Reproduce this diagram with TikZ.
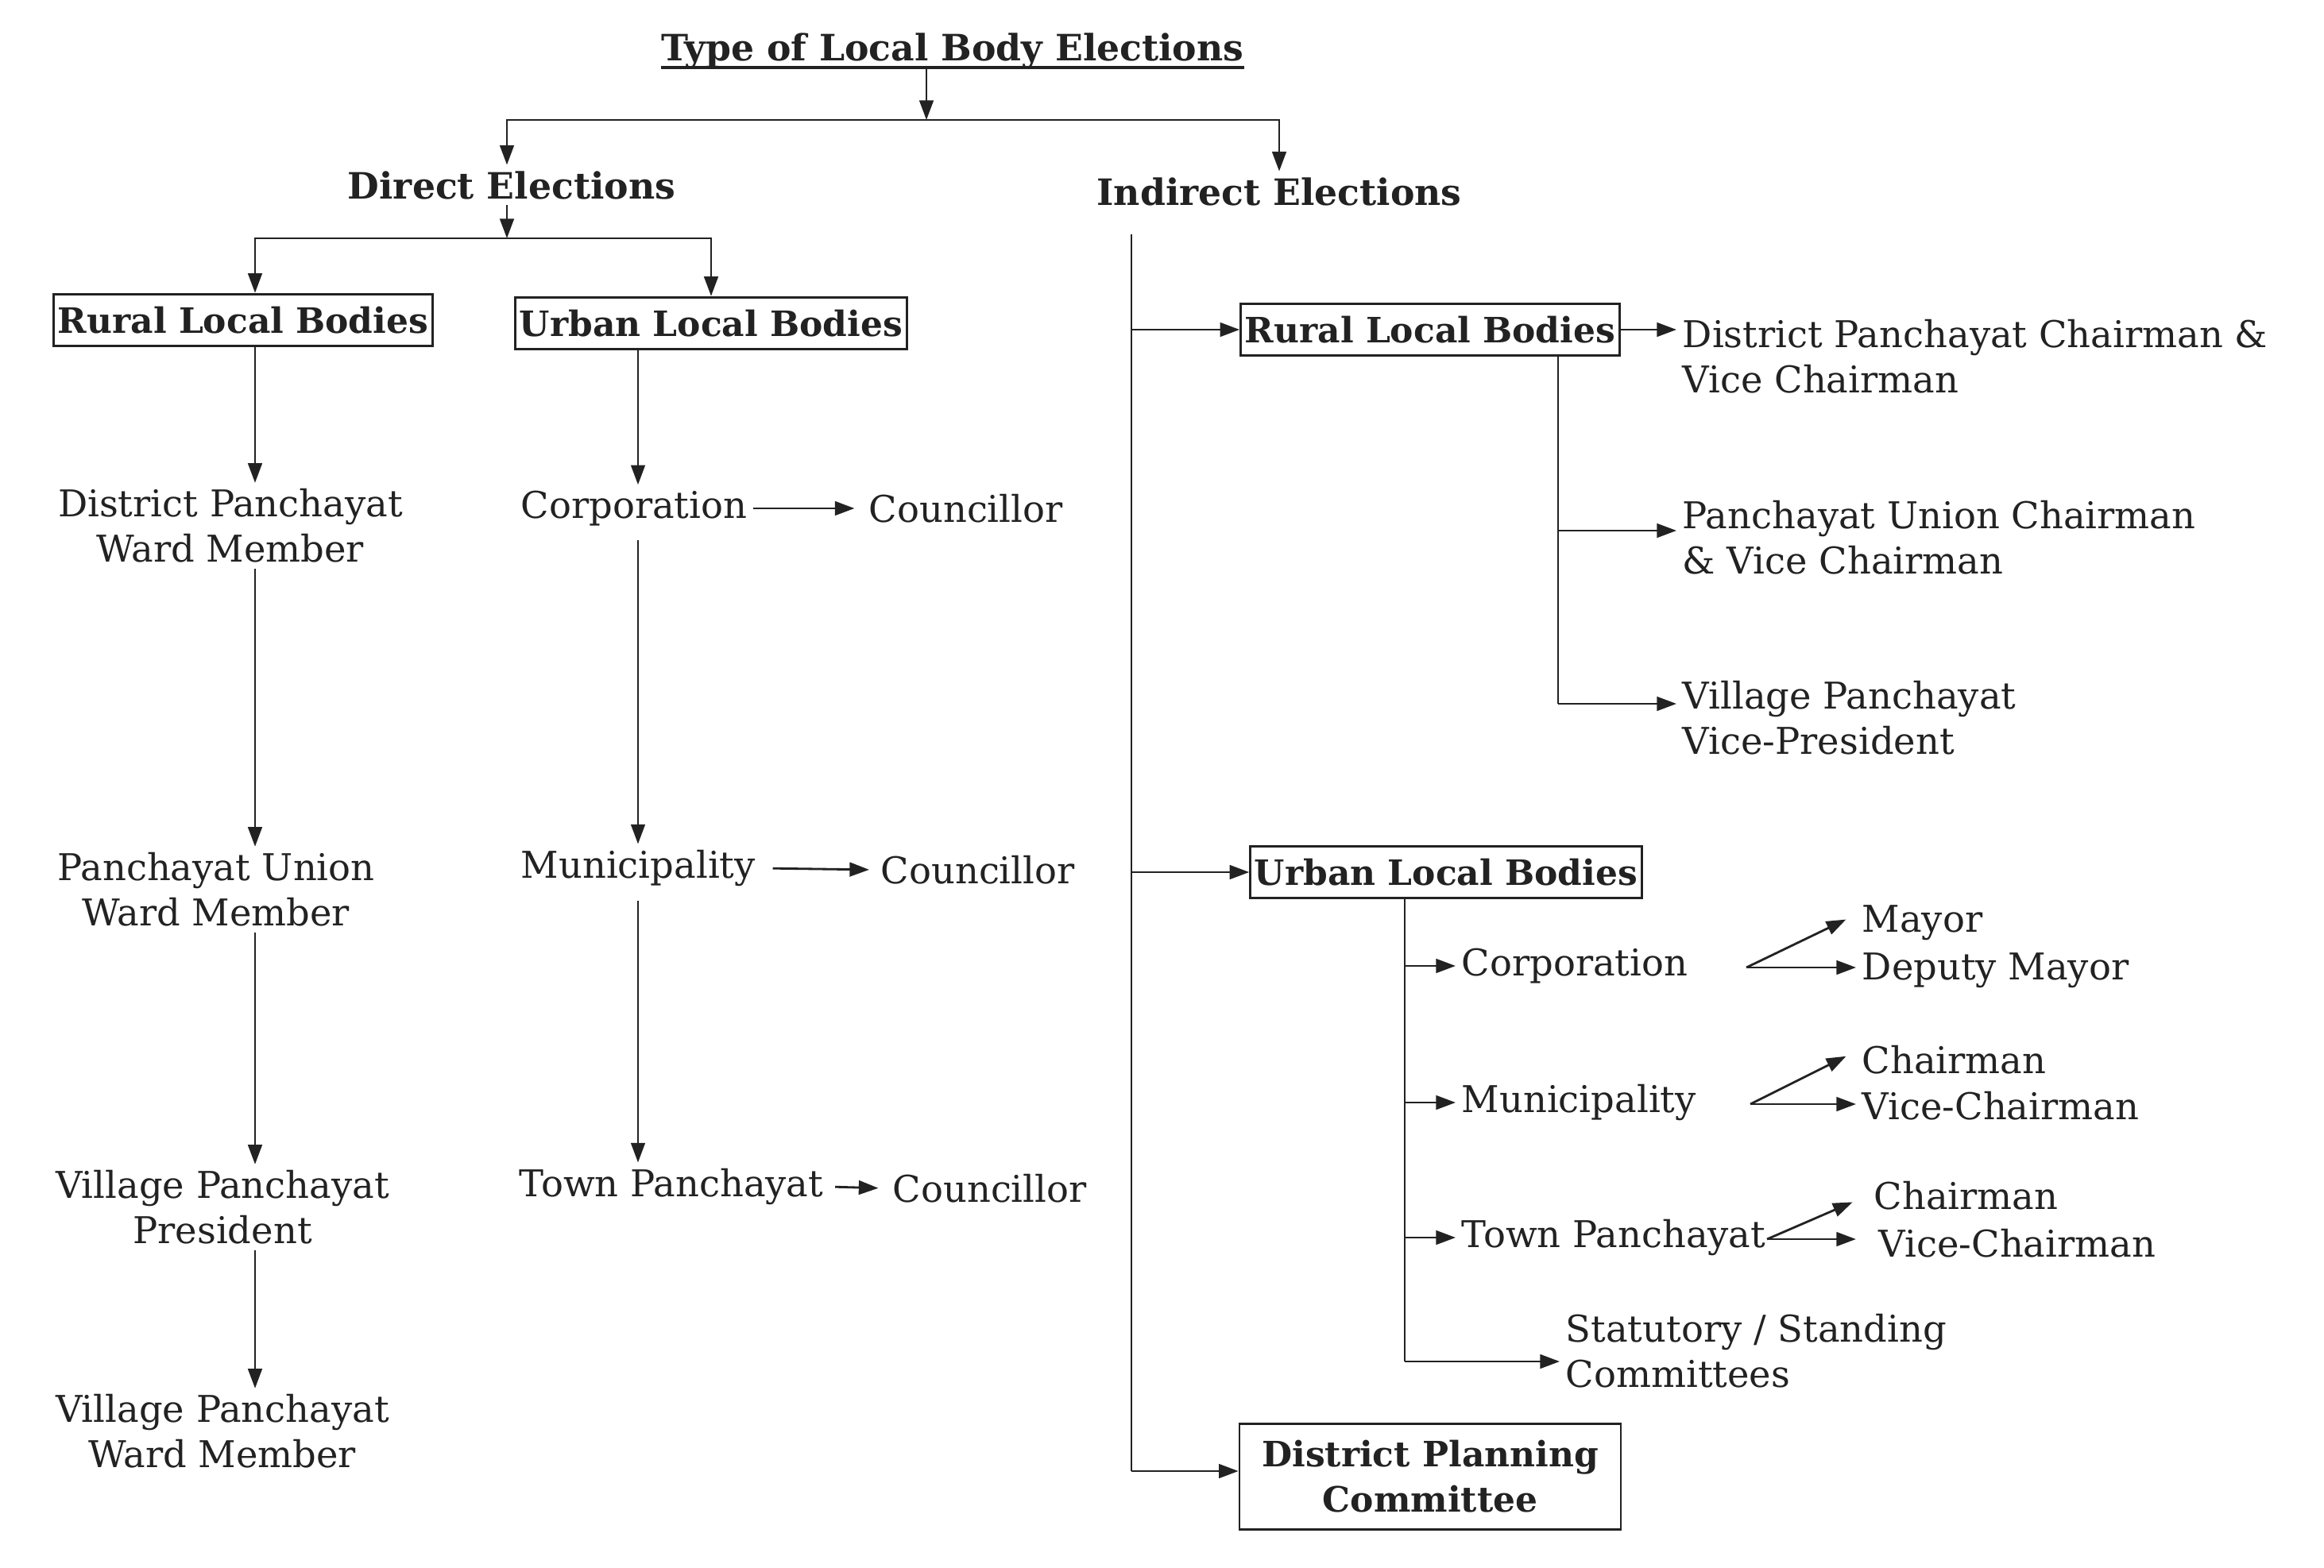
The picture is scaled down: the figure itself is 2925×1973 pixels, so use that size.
\documentclass[tikz,border=0pt]{standalone}
\usepackage{fontspec}
\setmainfont{DejaVu Serif}
\usetikzlibrary{arrows.meta,calc}
\definecolor{ink}{HTML}{222222}
\begin{document}
\begin{tikzpicture}[x=0.01cm,y=-0.01cm,
  every node/.style={text=ink,inner sep=2pt},
  txt/.style={font=\fontsize{13.2}{16.2}\selectfont,align=center},
  ltxt/.style={font=\fontsize{13.2}{16.2}\selectfont,align=left,anchor=west},
  hdr/.style={font=\fontsize{13}{16.2}\selectfont\bfseries},
  bbox/.style={draw=ink,line width=0.8pt,font=\fontsize{12.5}{16.2}\selectfont\bfseries,inner xsep=1.5pt,inner ysep=4.5pt,align=center},
  ln/.style={draw=ink,line width=0.8pt},
  arr/.style={ln,-{Triangle[length=7pt,width=5pt]}}]
\useasboundingbox (0,0) rectangle (2925,1973);
% column coordinates
\coordinate (xL) at (321,0);
\coordinate (xM) at (803,0);
\coordinate (xI) at (1424,0);
\coordinate (xR) at (1961,0);
\coordinate (xU) at (1768,0);
% title
\node[font=\fontsize{13}{16}\selectfont\bfseries,inner xsep=0pt] (title) at (1199,64) {Type of Local Body Elections};
\draw[ln,line width=1pt] ([yshift=-2.5pt]title.base west) -- ([yshift=-2.5pt]title.base east);
\coordinate (j1) at (1166,151);
\draw[arr] ([yshift=-2.5pt]title.base -| j1) -- (j1);
\node[hdr] (de) at (644,233) {Direct Elections};
\node[hdr] (ie) at (1610,241) {Indirect Elections};
\draw[arr] (j1) -| (de.north -| 638,0);
\draw[arr] (j1) -| (ie.north);
% direct
\coordinate (j2) at (638,300);
\draw[arr] (de.south -| j2) -- (j2);
\node[bbox] (rlb1) at (306,403) {Rural Local Bodies};
\node[bbox] (ulb1) at (895,407) {Urban Local Bodies};
\draw[arr] (j2) -| (rlb1.north -| xL);
\draw[arr] (j2) -| (ulb1.north);
\node[txt] (dpwm) at (290,662) {District Panchayat\\Ward Member};
\node[txt] (puwm) at (272,1120) {Panchayat Union\\Ward Member};
\node[txt] (vpp) at (280,1520) {Village Panchayat\\President};
\node[txt] (vpwm) at (280,1802) {Village Panchayat\\Ward Member};
\draw[arr] (rlb1.south -| xL) -- (dpwm.north -| xL);
\draw[arr] (dpwm.south -| xL) -- (puwm.north -| xL);
\draw[arr] (puwm.south -| xL) -- (vpp.north -| xL);
\draw[arr] (vpp.south -| xL) -- (vpwm.north -| xL);
% urban direct
\node[ltxt] (corp1) at (648,640) {Corporation};
\node[ltxt] (coun1) at (1086,640) {Councillor};
\node[ltxt] (muni1) at (648,1093) {Municipality};
\node[ltxt] (coun2) at (1101,1095) {Councillor};
\node[ltxt] (town1) at (646,1494) {Town Panchayat};
\node[ltxt] (coun3) at (1116,1496) {Councillor};
\draw[arr,shorten >=3pt] (corp1.east) -- (coun1.west);
\draw[arr,shorten <=4pt,shorten >=2pt] (muni1.east) -- (coun2.west);
\draw[arr,shorten <=2pt,shorten >=3pt] (town1.east) -- (coun3.west);
\draw[arr] (ulb1.south -| xM) -- (corp1.north -| xM);
\draw[arr,shorten <=3pt] (corp1.south -| xM) -- (muni1.north -| xM);
\draw[arr,shorten <=3pt] (muni1.south -| xM) -- (town1.north -| xM);
% indirect
\node[bbox] (rlb2) at (1800,415) {Rural Local Bodies};
\node[bbox] (ulb2) at (1820,1098) {Urban Local Bodies};
\node[bbox,inner ysep=6pt,inner xsep=8pt] (dpc2) at (1800,1859) {District Planning\\Committee};
\coordinate (ibot) at (1424,1852);
\draw[ln,shorten <=8pt] (ie.south -| xI) -- (ibot);
\draw[arr] (ibot) -- (ibot -| dpc2.west);
\draw[arr] (rlb2.west -| xI) -- (rlb2.west);
\draw[arr] (ulb2.west -| xI) -- (ulb2.west);
% rural indirect
\node[ltxt] (dpc1) at (2110,449) {District Panchayat Chairman \&\\Vice Chairman};
\node[ltxt] (puc) at (2110,677) {Panchayat Union Chairman\\\& Vice Chairman};
\node[ltxt] (vpvp) at (2110,904) {Village Panchayat\\Vice-President};
\draw[arr] (rlb2.east) -- (rlb2.east -| dpc1.west);
\coordinate (r2) at (1961,668);
\coordinate (r3) at (1961,886);
\draw[ln] (rlb2.south -| xR) -- (r3);
\draw[arr] (r2) -- (r2 -| puc.west);
\draw[arr] (r3) -- (r3 -| vpvp.west);
% urban indirect
\node[ltxt] (corp2) at (1832,1216) {Corporation};
\node[ltxt] (muni2) at (1832,1388) {Municipality};
\node[ltxt] (town2) at (1832,1558) {Town Panchayat};
\node[ltxt] (stat) at (1963,1701) {Statutory / Standing\\Committees};
\coordinate (u4) at (1768,1714);
\draw[ln] (ulb2.south -| xU) -- (u4);
\draw[arr] (corp2.west -| xU) -- (corp2.west);
\draw[arr] (muni2.west -| xU) -- (muni2.west);
\draw[arr] (town2.west -| xU) -- (town2.west);
\draw[arr] (u4) -- (u4 -| stat.west);
% forks
\node[ltxt] (mayor) at (2336,1162) {Mayor};
\node[ltxt] (dmayor) at (2336,1222) {Deputy Mayor};
\node[ltxt] (chair1) at (2336,1334) {Chairman};
\node[ltxt] (vchair1) at (2336,1392) {Vice-Chairman};
\node[ltxt] (chair2) at (2351,1505) {Chairman};
\node[ltxt] (vchair2) at (2357,1565) {Vice-Chairman};
\coordinate (f1) at (2198,1218);
\coordinate (f2) at (2203,1390);
\coordinate (f3) at (2224,1560);
\draw[arr,shorten >=4pt] (f1) -- ([yshift=3pt]mayor.west);
\draw[arr] (f1) -- (f1 -| dmayor.west);
\draw[arr,shorten >=4pt] (f2) -- ([yshift=3pt]chair1.west);
\draw[arr] (f2) -- (f2 -| vchair1.west);
\draw[arr,shorten >=6pt] (f3) -- ([yshift=0pt]chair2.west);
\draw[arr,shorten >=6pt] (f3) -- (f3 -| vchair2.west);
\end{tikzpicture}
\end{document}
